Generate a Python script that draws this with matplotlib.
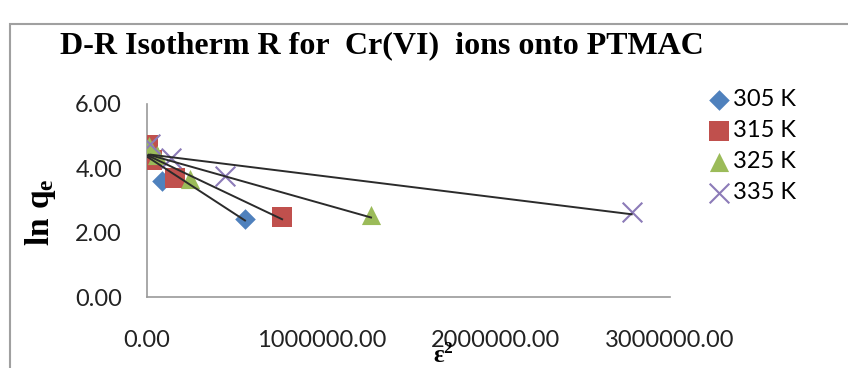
import numpy as np
import matplotlib
matplotlib.use("Agg")
import matplotlib.pyplot as plt
from matplotlib.patches import Rectangle

plt.rcParams["font.family"] = ["Lato", "DejaVu Sans"]
plt.rcParams["mathtext.fontset"] = "custom"
plt.rcParams["mathtext.rm"] = "Liberation Serif:bold"
plt.rcParams["mathtext.it"] = "Liberation Serif:bold"

# epsilon^2 and ln qe for each temperature
labels = ["305 K", "315 K", "325 K", "335 K"]
eps2_305 = [5000, 20000, 86000, 562000]
lnq_305 = [4.62, 4.40, 3.62, 2.44]
eps2_315 = [5000, 30000, 160000, 775000]
lnq_315 = [4.72, 4.25, 3.70, 2.48]
eps2_325 = [10000, 60000, 247000, 1285000]
lnq_325 = [4.68, 4.40, 3.68, 2.54]
eps2_335 = [20000, 140000, 450000, 2780000]
lnq_335 = [4.76, 4.32, 3.77, 2.63]

xs = [eps2_305, eps2_315, eps2_325, eps2_335]
ys = [lnq_305, lnq_315, lnq_325, lnq_335]
colors = ["#4F81BD", "#C0504D", "#9BBB59", "#8C7BB8"]
markers = ["D", "s", "^", "x"]
sizes = [110, 190, 190, 200]

fig = plt.figure(figsize=(8.48, 3.68), dpi=100)
ax = fig.add_axes([147 / 848, 1 - 297 / 368, 523 / 848, 193 / 368])

handles = []
for x, y, c, m, s, lab in zip(xs, ys, colors, markers, sizes, labels):
    lw = 1.5 if m == "x" else 0
    h = ax.scatter(x, y, marker=m, s=s, color=c, linewidths=lw, zorder=3, label=lab)
    handles.append(h)
    # linear trendline over the data range
    k, b = np.polyfit(x, y, 1)
    xx = np.array([min(x), max(x)])
    ax.plot(xx, k * xx + b, color="#2b2b2b", lw=1.4, zorder=4)

ax.set_xlim(0, 3000000)
ax.set_ylim(0, 6)
ax.set_xticks([0, 1000000, 2000000, 3000000])
ax.set_yticks([0, 2, 4, 6])
ax.set_xticklabels(["0.00", "1000000.00", "2000000.00", "3000000.00"])
ax.set_yticklabels(["0.00", "2.00", "4.00", "6.00"])
ax.tick_params(axis="both", length=0, labelsize=17, colors="#222222")
ax.tick_params(axis="x", pad=24)
ax.tick_params(axis="y", pad=18)
for side in ["top", "right"]:
    ax.spines[side].set_visible(False)
for side in ["left", "bottom"]:
    ax.spines[side].set_color("#9a9a9a")
    ax.spines[side].set_linewidth(1.2)

fig.text(60 / 848, 1 - 46 / 368, "D-R Isotherm R for  Cr(VI)  ions onto PTMAC",
         family="Liberation Serif", weight="bold", fontsize=23, va="center", ha="left")
fig.text(40 / 848, 1 - 212 / 368, r"$\mathrm{ln\ q_e}$", rotation=90,
         fontsize=24, va="center", ha="center")
fig.text(443 / 848, 1 - 367 / 368, r"$\mathrm{\epsilon^2}$", fontsize=18,
         va="bottom", ha="center")

fig.legend(handles=handles, loc="upper left", bbox_to_anchor=(695 / 848, 1 - 80 / 368),
           frameon=False, fontsize=17, labelspacing=0.42, handletextpad=0.0,
           handlelength=1.2, scatterpoints=1, borderaxespad=0)

fig.patches.append(Rectangle((10 / 848, -0.1), 1.0, 1 - 24 / 368 + 0.1,
                             transform=fig.transFigure, fill=False,
                             edgecolor="#a0a0a0", lw=1.5))

fig.savefig("out.png", dpi=100)
